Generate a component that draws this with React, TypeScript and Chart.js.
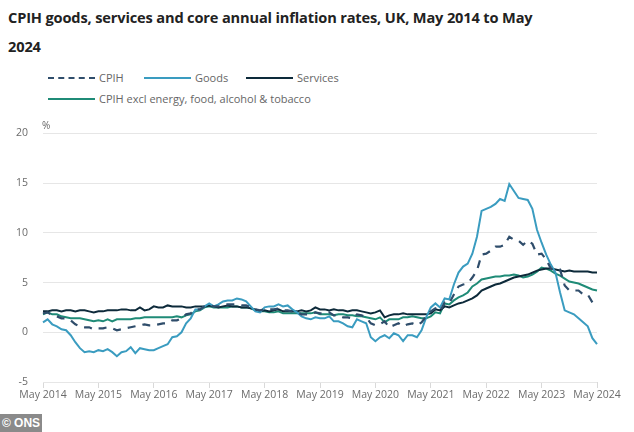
import React, { useEffect, useRef } from "react";
import { Chart, registerables } from "chart.js";

Chart.register(...registerables);

const TITLE_LINES = [
  "CPIH goods, services and core annual inflation rates, UK, May 2014 to May",
  "2024",
];

const SERIES_NAMES = ["CPIH", "Goods", "Services", "CPIH excl energy, food, alcohol & tobacco"];

const MONTH_NAMES = ["Jan", "Feb", "Mar", "Apr", "May", "Jun", "Jul", "Aug", "Sep", "Oct", "Nov", "Dec"];
const START_YEAR = 2014;
const START_MONTH = 4; // May
const N_MONTHS = 121;

const TICK_LABELS = [
  "May 2014", "May 2015", "May 2016", "May 2017", "May 2018", "May 2019",
  "May 2020", "May 2021", "May 2022", "May 2023", "May 2024",
];

const Y_TICKS = [-5, 0, 5, 10, 15, 20];

const CPIH = [
  1.9, 2.0, 1.7, 1.6, 1.4, 1.4, 1.2, 0.8,
  0.6, 0.5, 0.5, 0.3, 0.4, 0.4, 0.5, 0.4, 0.2, 0.3, 0.4, 0.5,
  0.6, 0.7, 0.8, 0.7, 0.7, 0.8, 0.9, 0.9, 1.2, 1.2, 1.4, 1.8,
  1.9, 2.3, 2.3, 2.6, 2.7, 2.6, 2.6, 2.7, 2.8, 2.8, 2.8, 2.7,
  2.7, 2.5, 2.3, 2.2, 2.3, 2.3, 2.3, 2.4, 2.2, 2.2, 2.1, 2.0,
  1.8, 1.8, 1.8, 2.0, 1.9, 1.9, 2.0, 1.7, 1.7, 1.5, 1.5, 1.4,
  1.8, 1.7, 1.5, 0.9, 0.7, 0.8, 1.1, 0.5, 0.7, 0.9, 0.6, 0.8,
  0.9, 0.7, 1.0, 1.6, 2.1, 2.4, 2.1, 3.0, 2.9, 3.8, 4.6, 4.8,
  4.9, 5.5, 6.2, 7.8, 7.9, 8.2, 8.6, 8.6, 8.8, 9.6, 9.3, 9.2,
  8.8, 9.2, 8.9, 7.8, 7.9, 7.3, 6.4, 6.3, 6.3, 4.7, 4.2, 4.2,
  4.2, 3.8, 3.8, 3.0, 2.8,
];

const GOODS = [
  1.0, 1.3, 0.8, 0.6, 0.3, 0.2, -0.3, -1.0,
  -1.6, -2.0, -1.9, -2.0, -1.8, -1.9, -1.7, -2.0, -2.4, -2.0, -1.9, -1.5,
  -2.1, -1.6, -1.7, -1.8, -1.8, -1.6, -1.4, -1.2, -0.5, -0.4, 0.0, 0.9,
  1.4, 2.3, 2.3, 2.6, 2.9, 2.6, 2.8, 3.1, 3.2, 3.2, 3.4, 3.3,
  3.1, 2.6, 2.1, 2.0, 2.5, 2.6, 2.6, 2.8, 2.6, 2.7, 2.3, 2.0,
  1.6, 1.4, 1.3, 1.5, 1.4, 1.4, 1.6, 1.1, 1.1, 0.9, 0.6, 0.5,
  1.3, 1.1, 0.9, -0.5, -0.9, -0.5, -0.3, -0.6, -0.1, -0.3, -0.9, -0.3,
  -0.3, -0.5, 0.2, 1.5, 2.5, 2.9, 2.5, 3.4, 3.3, 4.8, 6.0, 6.6,
  6.9, 7.9, 9.6, 12.2, 12.4, 12.6, 12.9, 13.4, 13.2, 14.9, 14.2, 13.5,
  13.4, 13.3, 12.4, 10.3, 9.0, 7.8, 6.8, 6.0, 4.0, 2.2, 2.0, 1.8,
  1.4, 1.0, 0.6, -0.6, -1.2,
];

const SERVICES = [
  2.1, 2.1, 2.2, 2.2, 2.1, 2.2, 2.2, 2.1,
  2.2, 2.2, 2.1, 2.0, 2.1, 2.1, 2.2, 2.2, 2.2, 2.3, 2.3, 2.2,
  2.2, 2.5, 2.2, 2.3, 2.6, 2.5, 2.5, 2.7, 2.6, 2.6, 2.6, 2.5,
  2.5, 2.6, 2.6, 2.6, 2.7, 2.6, 2.5, 2.6, 2.7, 2.6, 2.6, 2.5,
  2.5, 2.4, 2.3, 2.1, 2.2, 2.1, 2.2, 2.3, 2.1, 2.1, 2.1, 2.1,
  2.2, 2.1, 2.2, 2.5, 2.3, 2.3, 2.2, 2.3, 2.2, 2.2, 2.1, 2.2,
  2.2, 2.1, 2.0, 1.9, 2.0, 2.2, 1.5, 1.7, 1.8, 1.8, 1.9, 1.8,
  1.8, 1.8, 1.8, 1.8, 1.9, 2.3, 2.2, 2.6, 2.5, 2.7, 2.9, 3.0,
  3.2, 3.4, 3.7, 4.2, 4.4, 4.6, 4.8, 4.9, 5.1, 5.3, 5.5, 5.6,
  5.7, 5.8, 6.0, 6.2, 6.3, 6.4, 6.4, 6.3, 6.2, 6.1, 6.2, 6.1,
  6.1, 6.1, 6.1, 6.0, 6.0,
];

const CORE = [
  1.8, 2.0, 1.8, 1.8, 1.6, 1.5, 1.4, 1.4,
  1.4, 1.3, 1.2, 1.1, 1.2, 1.1, 1.3, 1.1, 1.3, 1.3, 1.3, 1.3,
  1.4, 1.4, 1.5, 1.5, 1.5, 1.5, 1.5, 1.5, 1.5, 1.6, 1.5, 1.7,
  1.8, 2.1, 2.2, 2.5, 2.6, 2.5, 2.5, 2.5, 2.5, 2.6, 2.6, 2.5,
  2.5, 2.4, 2.2, 2.1, 2.1, 2.0, 2.0, 2.1, 1.9, 1.9, 1.9, 1.9,
  1.9, 1.9, 1.9, 2.0, 1.8, 1.8, 1.8, 1.7, 1.8, 1.8, 1.7, 1.7,
  1.6, 1.6, 1.5, 1.4, 1.3, 1.5, 1.0, 1.3, 1.3, 1.3, 1.5, 1.5,
  1.6, 1.5, 1.4, 1.4, 1.6, 2.0, 1.9, 2.9, 2.8, 3.2, 3.5, 3.7,
  4.0, 4.6, 4.9, 5.3, 5.4, 5.5, 5.6, 5.6, 5.7, 5.7, 5.8, 5.7,
  5.5, 5.6, 5.8, 6.1, 6.5, 6.4, 6.2, 5.9, 5.7, 5.4, 5.1, 5.0,
  4.9, 4.7, 4.5, 4.3, 4.2,
];

const COLORS = ["#2f4d6b", "#3a9cc0", "#0d2a3a", "#1f8b77"];

const MONTH_LABELS: string[] = [];
for (let i = 0; i < N_MONTHS; i++) {
  const m = (START_MONTH + i) % 12;
  const y = START_YEAR + Math.floor((START_MONTH + i) / 12);
  MONTH_LABELS.push(`${MONTH_NAMES[m]} ${y}`);
}

const FONT = "'Open Sans', 'Noto Sans', sans-serif";

const percentPlugin = {
  id: "percentLabel",
  afterDraw(chart: any) {
    const { ctx, chartArea } = chart;
    ctx.save();
    ctx.font = `10px ${FONT}`;
    ctx.fillStyle = "#666";
    ctx.textAlign = "left";
    ctx.textBaseline = "middle";
    ctx.fillText("%", chartArea.left - 1, chartArea.top - 7);
    ctx.restore();
  },
};

export default function App() {
  const ref = useRef<HTMLCanvasElement | null>(null);

  useEffect(() => {
    if (!ref.current) return;
    const series = [CPIH, GOODS, SERVICES, CORE];
    const chart = new Chart(ref.current, {
      type: "line",
      data: {
        labels: MONTH_LABELS,
        datasets: series.map((d, i) => ({
          label: SERIES_NAMES[i],
          data: d,
          borderColor: COLORS[i],
          backgroundColor: COLORS[i],
          borderWidth: i === 0 ? 2.2 : 2,
          borderDash: i === 0 ? [8, 7] : [],
          pointRadius: 0,
          tension: 0,
          fill: false,
        })),
      },
      options: {
        animation: false,
        responsive: false,
        maintainAspectRatio: false,
        layout: { padding: { left: 0, right: 37, top: 16, bottom: 0 } },
        plugins: {
          legend: { display: false },
          tooltip: { enabled: false },
          title: { display: false },
        },
        scales: {
          x: {
            type: "category",
            offset: false,
            border: { display: false },
            grid: {
              drawOnChartArea: false,
              drawTicks: true,
              tickLength: 6,
              color: "#d9d9d9",
            },
            ticks: {
              autoSkip: false,
              maxRotation: 0,
              minRotation: 0,
              padding: 1,
              color: "#6b6b6b",
              font: { family: FONT, size: 10.5 },
              callback: (_v: any, idx: number) =>
                idx % 12 === 0 ? TICK_LABELS[idx / 12] : null,
            },
            afterFit: (s: any) => {
              s.height = 30;
            },
          },
          y: {
            min: Y_TICKS[0],
            max: Y_TICKS[Y_TICKS.length - 1],
            border: { display: false },
            afterBuildTicks: (s: any) => {
              s.ticks = Y_TICKS.map((v) => ({ value: v }));
            },
            grid: {
              color: "#e6e6e6",
              drawTicks: false,
              lineWidth: 1,
            },
            ticks: {
              padding: 15,
              color: "#6b6b6b",
              font: { family: FONT, size: 10.5 },
            },
            afterFit: (s: any) => {
              s.width = 43;
            },
          },
        },
      },
      plugins: [percentPlugin],
    });
    return () => chart.destroy();
  }, []);

  const legendItem = (i: number, left: number, top: number, lineW: number) => (
    <div
      key={i}
      style={{
        position: "absolute",
        left,
        top,
        display: "flex",
        alignItems: "center",
        whiteSpace: "nowrap",
      }}
    >
      <span
        style={{
          display: "inline-block",
          width: lineW,
          height: 0,
          borderTop: `2.5px ${i === 0 ? "dashed" : "solid"} ${COLORS[i]}`,
          marginRight: 4,
        }}
      />
      <span style={{ fontSize: 11, color: "#666", fontFamily: FONT }}>{SERIES_NAMES[i]}</span>
    </div>
  );

  return (
    <div
      style={{
        position: "fixed",
        left: 0,
        top: 0,
        width: 634,
        height: 432,
        background: "#fff",
        overflow: "hidden",
        fontFamily: FONT,
      }}
    >
      <div
        style={{
          position: "absolute",
          left: 8,
          top: 3,
          fontSize: 14.6,
          fontWeight: 700,
          color: "#222",
          lineHeight: "29px",
          letterSpacing: -0.15,
          whiteSpace: "nowrap",
        }}
      >
        {TITLE_LINES.map((t, i) => (
          <div key={i}>{t}</div>
        ))}
      </div>
      {legendItem(0, 48, 70, 47)}
      {legendItem(1, 144, 70, 47)}
      {legendItem(2, 246, 70, 47)}
      {legendItem(3, 48, 91, 47)}
      <canvas
        ref={ref}
        width={634}
        height={300}
        style={{ position: "absolute", left: 0, top: 112, width: 634, height: 300 }}
      />
      <div
        style={{
          position: "absolute",
          left: 0,
          top: 414,
          width: 42,
          height: 18,
          background: "#8a8a8a",
          color: "#fff",
          fontFamily: "'Liberation Sans', Arial, sans-serif",
          fontWeight: 700,
          fontSize: 12,
          lineHeight: "18px",
          textAlign: "center",
        }}
      >
        © ONS
      </div>
    </div>
  );
}
